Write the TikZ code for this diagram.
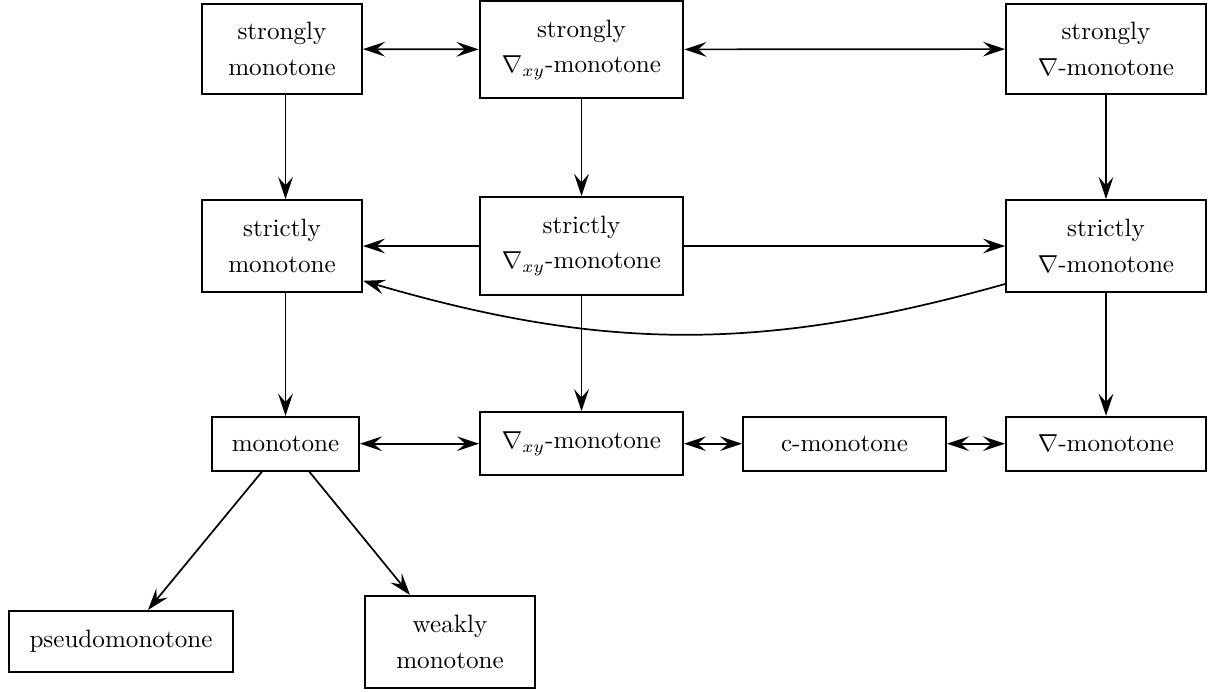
\documentclass[tikz,border=0pt]{standalone}
\usetikzlibrary{arrows.meta}
\begin{document}
\begin{tikzpicture}[x=0.408pt,y=-0.408pt,
  bx/.style={draw,line width=0.8pt,align=center,inner sep=0pt,
    font=\fontsize{10.25}{14.4}\selectfont},
  tip/.tip={Stealth[length=9pt,width=6pt,inset=3.4pt]},
  arr/.style={line width=0.7pt,-tip},
  darr/.style={line width=0.7pt,tip-tip}]
\useasboundingbox (0,0) rectangle (1214,691);
% top row
\node[bx,minimum width=65.3pt,minimum height=36.7pt] (sm) at (282,49) {strongly\\monotone};
\node[bx,minimum width=83.2pt,minimum height=39.6pt] (sxy) at (581.5,49.5) {strongly\\$\nabla_{xy}$-monotone};
\node[bx,minimum width=81.6pt,minimum height=36.7pt] (sn) at (1106,49) {strongly\\$\nabla$-monotone};
% middle row
\node[bx,minimum width=65.3pt,minimum height=37.5pt] (tm) at (282,246) {strictly\\monotone};
\node[bx,minimum width=83.2pt,minimum height=40pt] (txy) at (581.5,246) {strictly\\$\nabla_{xy}$-monotone};
\node[bx,minimum width=81.6pt,minimum height=37.5pt] (tn) at (1106,246) {strictly\\$\nabla$-monotone};
% bottom row
\node[bx,minimum width=60pt,minimum height=22pt] (m) at (285.5,443.7) {monotone};
\node[bx,minimum width=82.8pt,minimum height=25.7pt] (mxy) at (581.5,443.7) {$\nabla_{xy}$-monotone};
\node[bx,minimum width=82.8pt,minimum height=22pt] (c) at (844.5,443.7) {c-monotone};
\node[bx,minimum width=81.6pt,minimum height=22pt] (mn) at (1106,443.7) {$\nabla$-monotone};
% last row
\node[bx,minimum width=91.4pt,minimum height=24.9pt] (pm) at (121,641.5) {pseudomonotone};
\node[bx,minimum width=69.4pt,minimum height=37.5pt] (wm) at (450,642) {weakly\\monotone};
% connectors
\draw[darr] (sm) -- (sxy);
\draw[darr] (sxy) -- (sn);
\draw[arr] (sm.south -| m.north) -- (tm.north -| m.north);
\draw[arr] (sxy) -- (txy);
\draw[arr] (sn) -- (tn);
\draw[arr] (txy) -- (tm);
\draw[arr] (txy) -- (tn);
\draw[arr] ([yshift=-15.5pt]tn.west) to[bend left=16] ([yshift=-14.2pt]tm.east);
\draw[arr] (tm.south -| m.north) -- (m.north);
\draw[arr] (txy) -- (mxy);
\draw[arr] (tn) -- (mn);
\draw[darr] (m) -- (mxy);
\draw[darr] (mxy) -- (c);
\draw[darr] (c) -- (mn);
\draw[arr] ([xshift=-9.6pt]m.south) -- ([xshift=11pt]pm.north);
\draw[arr] ([xshift=9.7pt]m.south) -- ([xshift=-16.3pt]wm.north);
\end{tikzpicture}
\end{document}
